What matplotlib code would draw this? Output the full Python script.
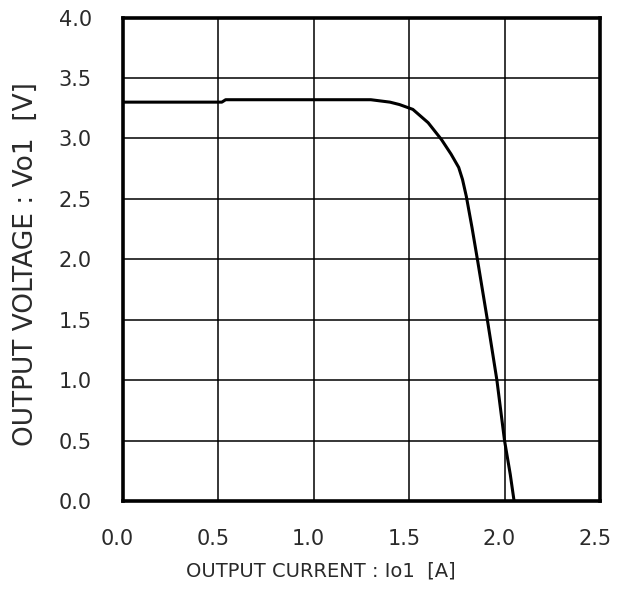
import matplotlib
matplotlib.use("Agg")
import matplotlib.pyplot as plt
from matplotlib.transforms import ScaledTranslation

plt.rcParams['font.family'] = ['DejaVu Sans']

# output current [A] vs output voltage [V]
current = [0.0, 0.52, 0.54, 0.8, 1.0, 1.3, 1.40, 1.45, 1.52, 1.60, 1.67,
           1.72, 1.76, 1.78, 1.80, 1.83, 1.86, 1.91, 1.96, 2.00, 2.03, 2.05]
voltage = [3.30, 3.30, 3.32, 3.32, 3.32, 3.32, 3.30, 3.28, 3.24, 3.13, 2.99,
           2.87, 2.76, 2.66, 2.52, 2.26, 1.98, 1.50, 1.00, 0.50, 0.22, 0.0]

xticks = [0.0, 0.5, 1.0, 1.5, 2.0, 2.5]
yticks = [0.0, 0.5, 1.0, 1.5, 2.0, 2.5, 3.0, 3.5, 4.0]

fig = plt.figure(figsize=(6.27, 5.9), dpi=100)
ax = fig.add_axes([0.1954, 0.1508, 0.7616, 0.8195])

ax.plot(current, voltage, color='black', linewidth=2.2, zorder=3)

ax.set_xlim(0, 2.5)
ax.set_ylim(0, 4.0)
ax.set_xticks(xticks)
ax.set_yticks(yticks)
ax.set_xticklabels([f"{v:.1f}" for v in xticks])
ax.set_yticklabels([f"{v:.1f}" for v in yticks])
ax.tick_params(length=0, labelsize=15, colors='#2a2a2a')
ax.tick_params(axis='x', pad=20)
ax.tick_params(axis='y', pad=22)
ax.grid(True, color='black', linewidth=1.1)
ax.set_axisbelow(True)
for s in ax.spines.values():
    s.set_linewidth(2.6)

# x tick labels sit a little left of their grid lines in the original
shift = ScaledTranslation(-0.05, 0, fig.dpi_scale_trans)
for lab in ax.get_xticklabels():
    lab.set_transform(lab.get_transform() + shift)

ax.set_xlabel('OUTPUT CURRENT : Io1  [A]', fontsize=14, color='#2a2a2a', va='center')
ax.set_ylabel('OUTPUT VOLTAGE : Vo1  [V]', fontsize=19, color='#2a2a2a', va='center')
ax.xaxis.set_label_coords(0.416, -0.145)
ax.yaxis.set_label_coords(-0.202, 0.49)

fig.savefig('out.png', dpi=100)
